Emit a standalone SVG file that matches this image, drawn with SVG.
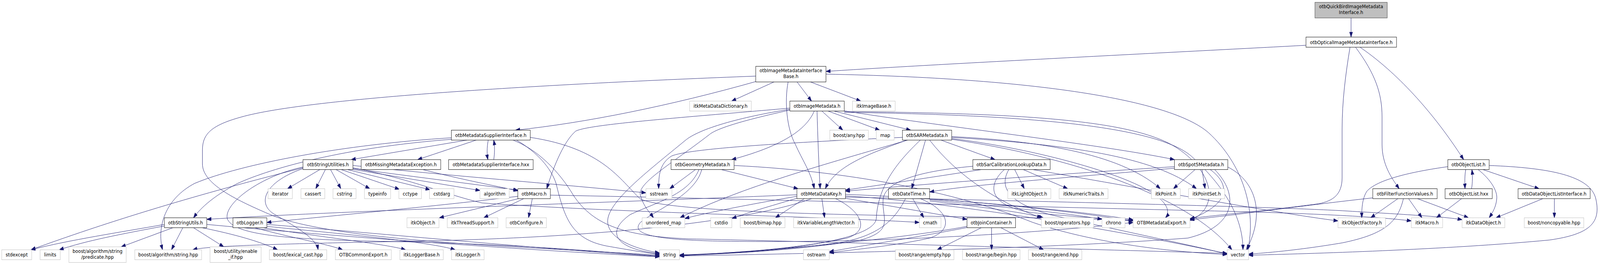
<svg xmlns="http://www.w3.org/2000/svg" width="4647" height="679" viewBox="0 0 4647 679" preserveAspectRatio="none" style="width:100%;height:100%">
<defs>
<style>
rect{stroke-width:1}
.d rect{fill:#fff;stroke:#000}
.r rect{fill:#bfbfbf;stroke:#404040}
.x rect{fill:#fff;stroke:#bfbfbf}
text{font-family:"DejaVu Sans","Liberation Sans",sans-serif;font-size:13px;text-anchor:middle;fill:#000}
#edges path{fill:none;stroke:#191970;stroke-width:1;marker-end:url(#a)}
</style>
<marker id="a" markerUnits="userSpaceOnUse" markerWidth="13" markerHeight="10" refX="13" refY="4.5" orient="auto"><path d="M0,0L13,4.5L0,9z" fill="#191970" stroke="#191970" stroke-width="1"/></marker>
</defs>
<rect width="4647" height="679" fill="#fff"/>
<g id="edges">
<path d="M3924,46 L3924,95"/>
<path d="M3793,116 C3500,130 2700,165 2399,183"/>
<path d="M3921,121 C3908,190 3898,260 3898,330 L3898,455 C3898,500 3870,515 3830,522 C3680,540 3520,552 3456,560"/>
<path d="M3937,121 C3995,190 4014,240 4014,300 L4014,370 C4014,420 4040,455 4064,483.5"/>
<path d="M3950,121 C4040,175 4150,270 4251,409"/>
<path d="M2248,210 L2125,259"/>
<path d="M2315,210 L2357,259"/>
<path d="M2354,210 L2500,259"/>
<path d="M2195,209 C1950,270 1700,315 1497,333.5"/>
<path d="M2289,210 C2278,260 2285,330 2310,370 C2330,410 2355,440 2365,483.5"/>
<path d="M2373,284.5 C2375,350 2378,420 2382,483.5"/>
<path d="M2633,359 C2540,390 2430,420 2397,483.5"/>
<path d="M2195,195 C1600,215 900,250 700,300 C610,322 588,345 588,385 L588,420 C588,470 680,510 780,548 C900,595 1200,618 1500,633 C1700,643 1850,650 1915.5,654"/>
<path d="M2399,190 C3000,200 3400,255 3510,340 C3610,420 3650,540 3624,640"/>
<path d="M2452,284 C2700,320 3200,370 3411,409"/>
<path d="M2452,286 C3000,290 3300,310 3420,380 C3530,445 3540,535 3456,565"/>
<path d="M2452,288 C3000,294 3360,325 3460,400 C3540,465 3610,545 3610,640"/>
<path d="M2365,284.5 C2345,325 2290,370 2125,409"/>
<path d="M2387,284.5 L2448,333.5"/>
<path d="M2405,284.5 L2555,333.5"/>
<path d="M2422,284.5 L2645,333.5"/>
<path d="M2294,277 C2000,300 1710,318 1672,336 C1640,360 1610,420 1588,483.5"/>
<path d="M2294,280 C2150,300 2030,330 1990,360 C1880,440 1760,520 1765,570 C1770,620 1870,642 1915.5,648"/>
<path d="M2294,282 C2150,310 2080,330 2060,345 C1950,420 1850,470 1860,500 C1868,528 1888,545 1898,558"/>
<path d="M1356,359 L1020,409"/>
<path d="M1383,359 L1213,409"/>
<path d="M1418,359 C1414,378 1414,395 1417,409"/>
<path d="M1434,409 C1437,392 1437,375 1434,359"/>
<path d="M1311,353 C1000,370 700,420 565,470 C480,510 455,580 472,640"/>
<path d="M1311,357 C1000,378 790,430 690,470 C625,500 585,530 562,558"/>
<path d="M1540,352 C1750,380 1800,460 1860,510 C1950,545 2500,552 3000,558 C3150,561 3250,563 3291,566"/>
<path d="M1500,359 C1560,390 1600,430 1615,470 C1640,560 1660,612 1760,630 C1830,641 1880,648 1915.5,652"/>
<path d="M1490,359 C1560,382 1625,440 1665,500 C1725,580 1820,605 2000,612 C2500,622 3200,640 3564,649"/>
<path d="M929,434.5 L835,483.5"/>
<path d="M945,434.5 L917,483.5"/>
<path d="M960,434.5 L990,483.5"/>
<path d="M976,434.5 L1074,483.5"/>
<path d="M991,434.5 L1160,485"/>
<path d="M1009,434.5 L1249,486"/>
<path d="M1024,434 L1394,488"/>
<path d="M1025,432 L1504,487"/>
<path d="M1025,424 C1300,450 1600,470 1876,494"/>
<path d="M880,430 C700,470 400,540 90,640"/>
<path d="M880,428 C760,450 650,520 660,560 C680,610 900,615 1200,620 C1600,630 1800,650 1915.5,656"/>
<path d="M1025,430 C1200,460 1300,500 1400,520 C1800,545 2400,555 2670,570"/>
<path d="M880,432 C770,465 745,520 795,548 C860,582 918,610 924,640"/>
<path d="M1228,434.5 C1350,462 1450,478 1504,489"/>
<path d="M1506,509 L1276,558"/>
<path d="M1521,509 L1405,558"/>
<path d="M1546,509 L1535,558"/>
<path d="M1504,503 C1300,525 1000,550 775,570"/>
<path d="M1598.5,500 C2200,510 3000,530 3500,540 C3800,546 4000,555 4099,566"/>
<path d="M740,583.5 C850,610 950,625 995,640"/>
<path d="M765,583.5 C950,610 1120,625 1178,640"/>
<path d="M775,580 C1000,600 1250,620 1322,640"/>
<path d="M775,575 C1100,598 1600,640 1915.5,657"/>
<path d="M477.5,575 C350,595 200,615 90,640"/>
<path d="M477.5,579 C350,600 250,617 172,640"/>
<path d="M502,583.5 L352,632.5"/>
<path d="M531,583.5 L498,640"/>
<path d="M562,583.5 L650,632.5"/>
<path d="M587,583.5 C680,600 760,620 806,640"/>
<path d="M600.5,575 C900,600 1500,640 1915.5,658"/>
<path d="M2387,509 L2395,558"/>
<path d="M2314.5,503 C2200,520 2050,545 1989,560"/>
<path d="M2314.5,508 C2230,530 2170,545 2126,560"/>
<path d="M2336,509 L2252,558"/>
<path d="M2314.5,499 C1800,518 1000,540 600.5,562"/>
<path d="M2455.5,508 L2808.5,562"/>
<path d="M2427,509 C2500,540 2530,590 2460,610 C2300,640 2100,650 1974,653"/>
<path d="M2455.5,502 C2800,520 3300,600 3564,650"/>
<path d="M2455.5,498 C2800,510 3100,540 3291,566"/>
<path d="M2357,509 C2200,560 1800,608 1200,618 C800,625 600,630 560,640"/>
<path d="M2455.5,505 C3000,515 3700,530 3900,540 C4050,548 4200,555 4246.5,563"/>
<path d="M2651,509 L2683,558"/>
<path d="M2673,509 C2760,540 2770,590 2700,610 C2600,630 2470,640 2408.5,648"/>
<path d="M2700,512 C2900,530 3100,545 3200.5,562"/>
<path d="M2700,515 C2850,530 2980,545 3030,558"/>
<path d="M2700,510 C3000,528 3200,550 3291,563"/>
<path d="M2630,509 C2600,560 2560,600 2450,620 C2250,645 2050,652 1974,654"/>
<path d="M2850,434.5 C2700,455 2550,475 2455.5,487"/>
<path d="M2947,434.5 L2975,483.5"/>
<path d="M2972,434.5 L3101,483.5"/>
<path d="M2917,434.5 C2860,480 2880,530 3000,545 C3150,558 3250,562 3291,565"/>
<path d="M2930,434.5 C2900,480 2930,520 3050,550 C3300,600 3480,632 3564,651"/>
<path d="M3000,434.5 C3300,480 3700,545 3886,566"/>
<path d="M2825.5,426 C2650,440 2570,470 2565,510 C2560,560 2600,590 2500,615 C2300,645 2050,652 1974,655"/>
<path d="M2621,352 C2300,365 2000,380 1950,400 C1915,420 1913,450 1913,483.5"/>
<path d="M2636,359 C2400,420 2150,480 1975,558"/>
<path d="M2688,359 L2648,483.5"/>
<path d="M2733,359 L2890,409"/>
<path d="M2673,359 C2600,420 2550,480 2545,560 C2540,612 2300,645 1974,654"/>
<path d="M2700,359 C2780,450 2900,520 3025,558"/>
<path d="M2764,350 C3000,360 3250,390 3370,483.5"/>
<path d="M2764,352 C3100,370 3350,400 3475,483.5"/>
<path d="M2764,355 C3000,380 3300,450 3370,510 C3395,530 3395,548 3385,558"/>
<path d="M2764,357 C3100,400 3450,500 3578,640"/>
<path d="M2020,434.5 L1945,483.5"/>
<path d="M2095,434.5 L2318,483.5"/>
<path d="M2030,434.5 C2000,500 1900,520 1830,550 C1750,600 1800,640 1915.5,650"/>
<path d="M2038,434.5 C2020,500 1900,540 1860,570 C1830,600 1900,615 2100,618 C2600,625 3100,590 3291,570"/>
<path d="M2132,424 C2500,440 2800,500 3000,570 C3200,630 3450,648 3564,652"/>
<path d="M3471,434.5 L3408,483.5"/>
<path d="M3491,434.5 L3500,483.5"/>
<path d="M3515,434.5 C3570,470 3580,520 3456,562"/>
<path d="M3528,434.5 C3600,500 3590,580 3450,610 C3000,640 2300,650 1974,656"/>
<path d="M3566,428 C3640,460 3680,540 3620,640"/>
<path d="M3411,427 C3100,445 2700,470 2455.5,490"/>
<path d="M3411,431 C3100,455 2800,475 2700,492"/>
<path d="M2850,583.5 L2722,640"/>
<path d="M2880,583.5 L2880,640"/>
<path d="M2907,583.5 L3031,640"/>
<path d="M2808.5,580 C2600,615 2200,645 1974,655"/>
<path d="M2808.5,583 C2650,610 2500,630 2408.5,645"/>
<path d="M3987,507 C3800,525 3600,550 3456,563"/>
<path d="M4060,509 L3981,558"/>
<path d="M4091,509 L4130,558"/>
<path d="M4117,509 L4265,558"/>
<path d="M4076,509 C4060,570 4020,600 3900,622 C3780,640 3680,648 3626.5,651"/>
<path d="M4205,427 C4100,440 4000,460 3970,490 C3955,510 3955,540 3955,558"/>
<path d="M4257,434.5 C4254,450 4254,465 4255,483.5"/>
<path d="M4274,483.5 C4277,468 4277,450 4275,434.5"/>
<path d="M4293,434.5 C4330,460 4350,490 4347,510 C4345,530 4335,545 4325,558"/>
<path d="M4307,434.5 L4470,483.5"/>
<path d="M4325,424 C4500,430 4620,450 4635,510 C4650,570 4620,600 4500,615 C4200,640 3800,650 3626.5,654"/>
<path d="M4245,509 L4172,558"/>
<path d="M4481,509 L4345,558"/>
<path d="M4514.5,509 L4514.5,558"/>
</g>
<g id="quickbird" class="r"><rect x="3819" y="6" width="210" height="40"/><text x="3924" y="21.5">otbQuickBirdImageMetadata</text><text x="3924" y="36.5">Interface.h</text></g>
<g id="optical" class="d"><rect x="3793" y="95" width="263" height="26"/><text x="3924.5" y="113">otbOpticalImageMetadataInterface.h</text></g>
<g id="base" class="d"><rect x="2195" y="170" width="204" height="40"/><text x="2297" y="185.5">otbImageMetadataInterface</text><text x="2297" y="200.5">Base.h</text></g>
<g id="metadatadictionary" class="x"><rect x="2003" y="259" width="179" height="25.5"/><text x="2092.5" y="276.5">itkMetaDataDictionary.h</text></g>
<g id="imagemetadata" class="d"><rect x="2294" y="259" width="158" height="25.5"/><text x="2373" y="276.5">otbImageMetadata.h</text></g>
<g id="imagebase" class="x"><rect x="2476" y="259" width="124" height="25.5"/><text x="2538" y="276.5">itkImageBase.h</text></g>
<g id="msi" class="d"><rect x="1311" y="333.5" width="229" height="25.5"/><text x="1425.5" y="351">otbMetadataSupplierInterface.h</text></g>
<g id="boostany" class="x"><rect x="2410" y="333.5" width="112" height="25.5"/><text x="2466" y="351">boost/any.hpp</text></g>
<g id="map" class="x"><rect x="2545" y="333.5" width="52" height="25.5"/><text x="2571" y="351">map</text></g>
<g id="sarmetadata" class="d"><rect x="2621" y="333.5" width="143" height="25.5"/><text x="2692.5" y="351">otbSARMetadata.h</text></g>
<g id="stringutilities" class="d"><rect x="880" y="409" width="145" height="25.5"/><text x="952.5" y="426.5">otbStringUtilities.h</text></g>
<g id="missingmetadataexception" class="d"><rect x="1049" y="409" width="231" height="25.5"/><text x="1164.5" y="426.5">otbMissingMetadataException.h</text></g>
<g id="msihxx" class="d"><rect x="1303" y="409" width="245.5" height="25.5"/><text x="1425.75" y="426.5">otbMetadataSupplierInterface.hxx</text></g>
<g id="geometrymetadata" class="d"><rect x="1949" y="409" width="183" height="25.5"/><text x="2040.5" y="426.5">otbGeometryMetadata.h</text></g>
<g id="sarcalibration" class="d"><rect x="2825.5" y="409" width="224.5" height="25.5"/><text x="2937.75" y="426.5">otbSarCalibrationLookupData.h</text></g>
<g id="spot5metadata" class="d"><rect x="3411" y="409" width="155" height="25.5"/><text x="3488.5" y="426.5">otbSpot5Metadata.h</text></g>
<g id="objectlist" class="d"><rect x="4205" y="409" width="120" height="25.5"/><text x="4265" y="426.5">otbObjectList.h</text></g>
<g id="iterator" class="x"><rect x="778.5" y="483.5" width="70.5" height="25.5"/><text x="813.75" y="501">iterator</text></g>
<g id="cassert" class="x"><rect x="874" y="483.5" width="69.5" height="25.5"/><text x="908.75" y="501">cassert</text></g>
<g id="cstring" class="x"><rect x="967" y="483.5" width="67" height="25.5"/><text x="1000.5" y="501">cstring</text></g>
<g id="typeinfo" class="x"><rect x="1058.5" y="483.5" width="76" height="25.5"/><text x="1096.5" y="501">typeinfo</text></g>
<g id="cctype" class="x"><rect x="1158.5" y="483.5" width="65.5" height="25.5"/><text x="1191.25" y="501">cctype</text></g>
<g id="cstdarg" class="x"><rect x="1247.5" y="483.5" width="71" height="25.5"/><text x="1283" y="501">cstdarg</text></g>
<g id="algorithm" class="x"><rect x="1394" y="483.5" width="85" height="25.5"/><text x="1436.5" y="501">algorithm</text></g>
<g id="otbmacro" class="d"><rect x="1504" y="483.5" width="94.5" height="25.5"/><text x="1551.25" y="501">otbMacro.h</text></g>
<g id="sstream" class="x"><rect x="1876" y="483.5" width="75.5" height="25.5"/><text x="1913.75" y="501">sstream</text></g>
<g id="metadatakey" class="d"><rect x="2314.5" y="483.5" width="141" height="25.5"/><text x="2385" y="501">otbMetaDataKey.h</text></g>
<g id="datetime" class="d"><rect x="2580.5" y="483.5" width="119.5" height="25.5"/><text x="2640.25" y="501">otbDateTime.h</text></g>
<g id="lightobject" class="x"><rect x="2927" y="483.5" width="125" height="25.5"/><text x="2989.5" y="501">itkLightObject.h</text></g>
<g id="numerictraits" class="x"><rect x="3076" y="483.5" width="142" height="25.5"/><text x="3147" y="501">itkNumericTraits.h</text></g>
<g id="itkpoint" class="x"><rect x="3344" y="483.5" width="84" height="25.5"/><text x="3386" y="501">itkPoint.h</text></g>
<g id="itkpointset" class="x"><rect x="3452" y="483.5" width="105" height="25.5"/><text x="3504.5" y="501">itkPointSet.h</text></g>
<g id="filterfunctionvalues" class="d"><rect x="3987" y="483.5" width="187" height="25.5"/><text x="4080.5" y="501">otbFilterFunctionValues.h</text></g>
<g id="objectlisthxx" class="d"><rect x="4197" y="483.5" width="137" height="25.5"/><text x="4265.5" y="501">otbObjectList.hxx</text></g>
<g id="dataobjectlistinterface" class="d"><rect x="4409" y="483.5" width="209.5" height="25.5"/><text x="4513.75" y="501">otbDataObjectListInterface.h</text></g>
<g id="stringutils" class="d"><rect x="477.5" y="558" width="123" height="25.5"/><text x="539" y="575.5">otbStringUtils.h</text></g>
<g id="logger" class="d"><rect x="676.5" y="558" width="98.5" height="25.5"/><text x="725.75" y="575.5">otbLogger.h</text></g>
<g id="itkobject" class="x"><rect x="1182" y="558" width="93" height="25.5"/><text x="1228.5" y="575.5">itkObject.h</text></g>
<g id="threadsupport" class="x"><rect x="1299" y="558" width="147" height="25.5"/><text x="1372.5" y="575.5">itkThreadSupport.h</text></g>
<g id="configure" class="x"><rect x="1470" y="558" width="117" height="25.5"/><text x="1528.5" y="575.5">otbConfigure.h</text></g>
<g id="unorderedmap" class="x"><rect x="1865" y="558" width="124" height="25.5"/><text x="1927" y="575.5">unordered_map</text></g>
<g id="cstdio" class="x"><rect x="2064" y="558" width="61.5" height="25.5"/><text x="2094.75" y="575.5">cstdio</text></g>
<g id="bimap" class="x"><rect x="2150" y="558" width="130" height="25.5"/><text x="2215" y="575.5">boost/bimap.hpp</text></g>
<g id="variablelengthvector" class="x"><rect x="2305" y="558" width="188" height="25.5"/><text x="2399" y="575.5">itkVariableLengthVector.h</text></g>
<g id="cmath" class="x"><rect x="2670" y="558" width="63" height="25.5"/><text x="2701.5" y="575.5">cmath</text></g>
<g id="joincontainer" class="d"><rect x="2808.5" y="558" width="141" height="25.5"/><text x="2879" y="575.5">otbJoinContainer.h</text></g>
<g id="operators" class="x"><rect x="3024.5" y="558" width="152" height="25.5"/><text x="3100.5" y="575.5">boost/operators.hpp</text></g>
<g id="chrono" class="x"><rect x="3200.5" y="558" width="67" height="25.5"/><text x="3234" y="575.5">chrono</text></g>
<g id="metadataexport" class="x"><rect x="3291" y="558" width="165" height="25.5"/><text x="3373.5" y="575.5">OTBMetadataExport.h</text></g>
<g id="objectfactory" class="x"><rect x="3886" y="558" width="138" height="25.5"/><text x="3955" y="575.5">itkObjectFactory.h</text></g>
<g id="itkmacro" class="x"><rect x="4099" y="558" width="91" height="25.5"/><text x="4144.5" y="575.5">itkMacro.h</text></g>
<g id="dataobject" class="x"><rect x="4246.5" y="558" width="124" height="25.5"/><text x="4308.5" y="575.5">itkDataObject.h</text></g>
<g id="noncopyable" class="x"><rect x="4427" y="558" width="173" height="25.5"/><text x="4513.5" y="575.5">boost/noncopyable.hpp</text></g>
<g id="stdexcept" class="x"><rect x="5" y="640" width="87" height="25.5"/><text x="48.5" y="657.5">stdexcept</text></g>
<g id="limits" class="x"><rect x="116.5" y="640" width="58.5" height="25.5"/><text x="145.75" y="657.5">limits</text></g>
<g id="predicate" class="x"><rect x="200" y="632.5" width="166.5" height="40"/><text x="283.25" y="648">boost/algorithm/string</text><text x="283.25" y="663">/predicate.hpp</text></g>
<g id="algorithmstring" class="x"><rect x="391.5" y="640" width="194" height="25.5"/><text x="488.5" y="657.5">boost/algorithm/string.hpp</text></g>
<g id="enableif" class="x"><rect x="610" y="632.5" width="148.5" height="40"/><text x="684.25" y="648">boost/utility/enable</text><text x="684.25" y="663">_if.hpp</text></g>
<g id="lexicalcast" class="x"><rect x="782.5" y="640" width="166.5" height="25.5"/><text x="865.75" y="657.5">boost/lexical_cast.hpp</text></g>
<g id="commonexport" class="x"><rect x="974" y="640" width="162.5" height="25.5"/><text x="1055.25" y="657.5">OTBCommonExport.h</text></g>
<g id="loggerbase" class="x"><rect x="1161.5" y="640" width="126" height="25.5"/><text x="1224.5" y="657.5">itkLoggerBase.h</text></g>
<g id="itklogger" class="x"><rect x="1311.5" y="640" width="94.5" height="25.5"/><text x="1358.75" y="657.5">itkLogger.h</text></g>
<g id="string" class="x"><rect x="1915.5" y="640" width="58" height="25.5"/><text x="1944.5" y="657.5">string</text></g>
<g id="ostream" class="x"><rect x="2333.5" y="640" width="75" height="25.5"/><text x="2371" y="657.5">ostream</text></g>
<g id="rangeempty" class="x"><rect x="2600.5" y="640" width="170" height="25.5"/><text x="2685.5" y="657.5">boost/range/empty.hpp</text></g>
<g id="rangebegin" class="x"><rect x="2795.5" y="640" width="167" height="25.5"/><text x="2879" y="657.5">boost/range/begin.hpp</text></g>
<g id="rangeend" class="x"><rect x="2987" y="640" width="155" height="25.5"/><text x="3064.5" y="657.5">boost/range/end.hpp</text></g>
<g id="vector" class="x"><rect x="3564" y="640" width="62.5" height="25.5"/><text x="3595.25" y="657.5">vector</text></g>
</svg>
